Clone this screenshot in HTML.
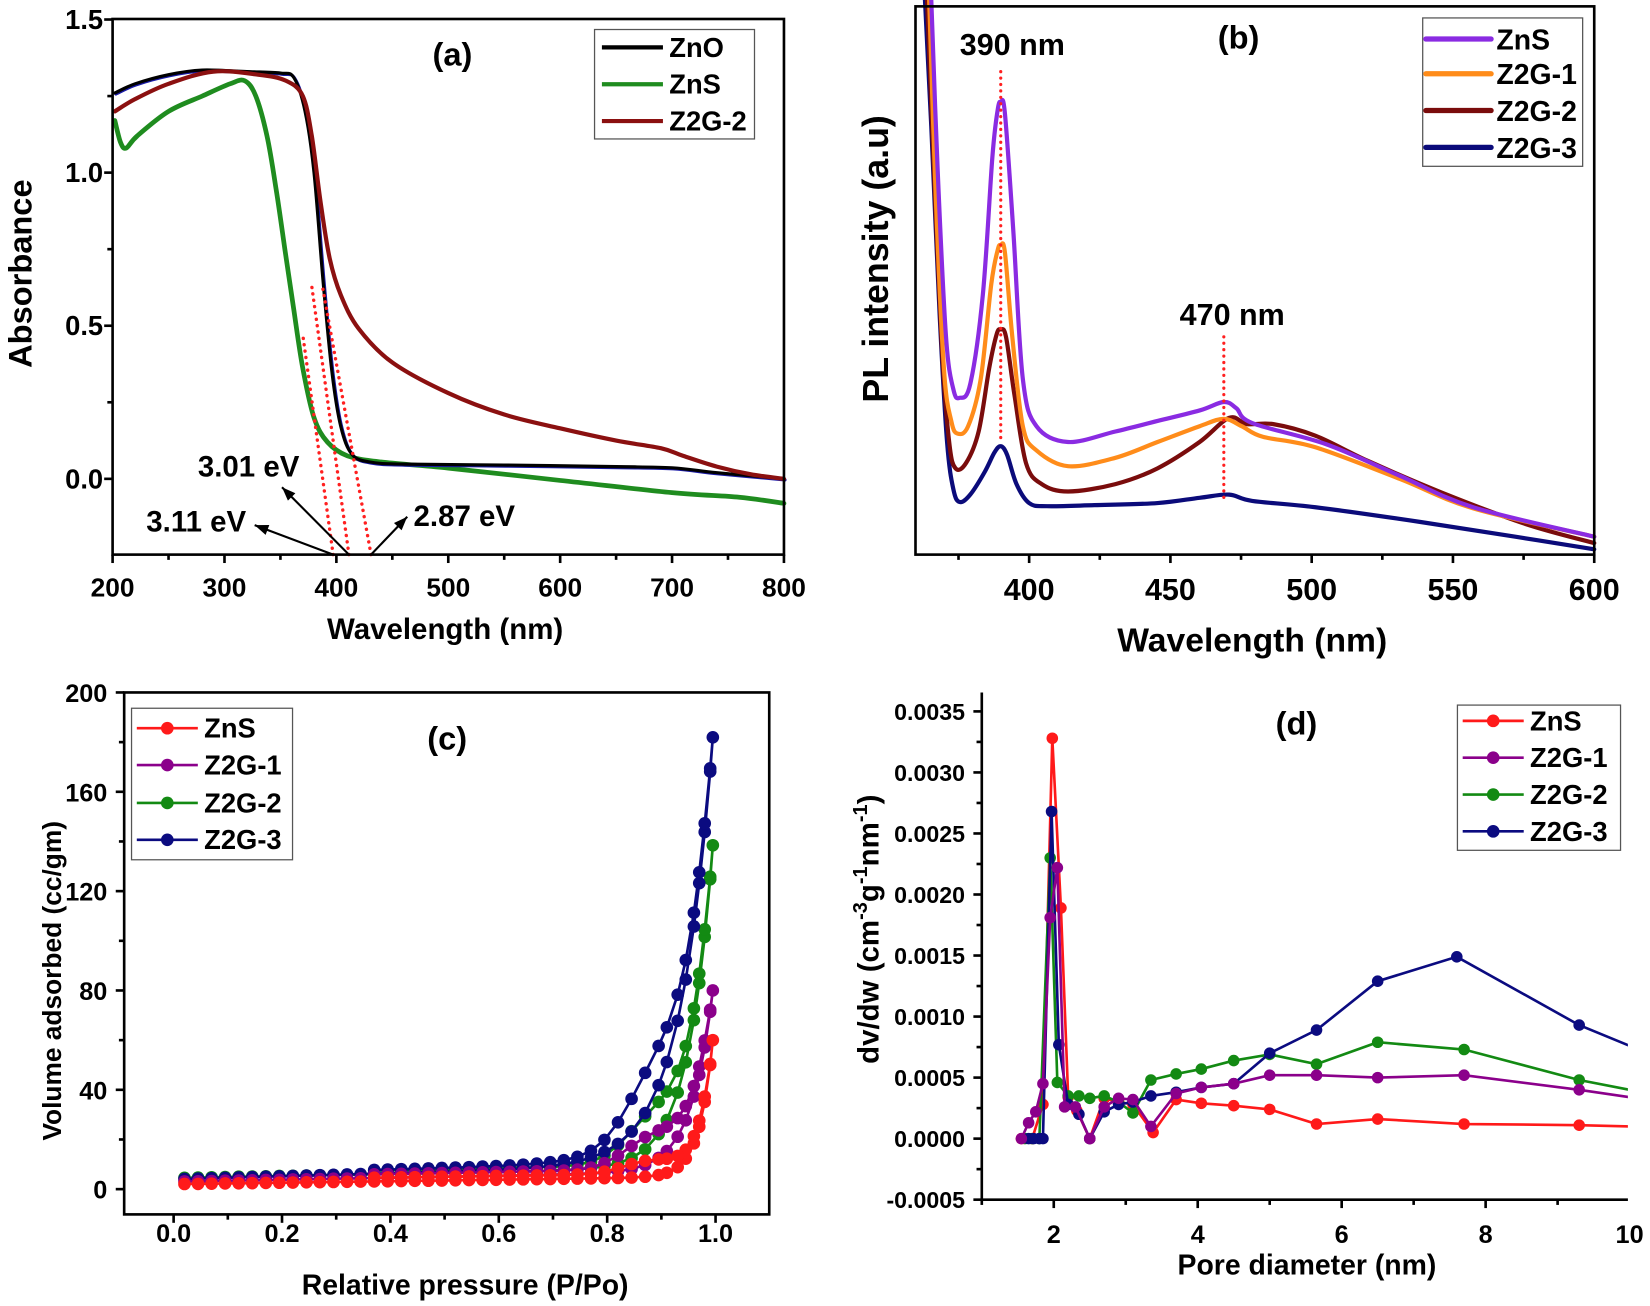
<!DOCTYPE html>
<html><head><meta charset="utf-8"><style>
html,body{margin:0;padding:0;background:#fff;}
svg{display:block;}
text{font-family:"Liberation Sans",Arial,sans-serif;font-weight:bold;fill:#000;}
</style></head><body>
<svg id="s" width="1650" height="1306" viewBox="0 0 1568 1241" xmlns="http://www.w3.org/2000/svg">
<rect width="1568" height="1241" fill="#fff"/>
<g id="g"></g>
</svg>
<script>
var out=[];
function add(s){out.push(s);}
function cr(pts){
 var d='M'+pts[0][0].toFixed(1)+' '+pts[0][1].toFixed(1);
 for(var i=0;i<pts.length-1;i++){
  var p0=pts[Math.max(0,i-1)],p1=pts[i],p2=pts[i+1],p3=pts[Math.min(pts.length-1,i+2)];
  var c1=[p1[0]+(p2[0]-p0[0])/6,p1[1]+(p2[1]-p0[1])/6],c2=[p2[0]-(p3[0]-p1[0])/6,p2[1]-(p3[1]-p1[1])/6];
  d+=' C'+c1[0].toFixed(1)+' '+c1[1].toFixed(1)+' '+c2[0].toFixed(1)+' '+c2[1].toFixed(1)+' '+p2[0].toFixed(1)+' '+p2[1].toFixed(1);
 }
 return d;
}
function path(pts,col,w,extra){add('<path d="'+cr(pts)+'" fill="none" stroke="'+col+'" stroke-width="'+w+'" stroke-linejoin="round" stroke-linecap="round" '+(extra||'')+'/>');}
function line(x1,y1,x2,y2,col,w,extra){add('<line x1="'+x1+'" y1="'+y1+'" x2="'+x2+'" y2="'+y2+'" stroke="'+col+'" stroke-width="'+w+'" '+(extra||'')+'/>');}
function txt(x,y,s,fs,anchor,extra){add('<text x="'+x+'" y="'+y+'" font-size="'+fs+'" text-anchor="'+(anchor||'start')+'" '+(extra||'')+'>'+s+'</text>');}
function box(x0,y0,x1,y1,w){add('<rect x="'+x0+'" y="'+y0+'" width="'+(x1-x0)+'" height="'+(y1-y0)+'" fill="none" stroke="#000" stroke-width="'+w+'"/>');}

/* ---------- Panel (a) ---------- */
function A(l,a){return [107+(l-200)*1.0633,455-a*291];}
for(var l=200;l<=800;l+=50){var x=A(l,0)[0];line(x,527,x,527+(l%100==0?8:5),'#000',2.5);if(l%100==0)txt(x,567,l,25,'middle');}
for(var a=-0.25;a<=1.5;a+=0.25){var y=A(200,a)[1];if(a>-0.2){line(107,y,107-(Math.abs(a*2-Math.round(a*2))<0.01?8:5),y,'#000',2.5);} }
[[1.5,'1.5'],[1.0,'1.0'],[0.5,'0.5'],[0,'0.0']].forEach(function(t){txt(98,A(200,t[0])[1]+9,t[1],26,'end');});
var zno=[[202,1.26],[220,1.29],[250,1.32],[280,1.335],[320,1.33],[350,1.325],[362,1.31],[372,1.2],[380,1.0],[388,0.65],[396,0.35],[404,0.17],[414,0.08],[430,0.055],[460,0.048],[550,0.045],[650,0.04],[700,0.036],[740,0.02],[800,0.0]];
var zns=[[202,1.17],[207,1.1],[212,1.08],[222,1.12],[250,1.2],[280,1.25],[305,1.29],[318,1.3],[328,1.25],[338,1.12],[346,0.95],[354,0.75],[362,0.55],[370,0.36],[380,0.2],[392,0.12],[410,0.075],[440,0.055],[500,0.035],[600,-0.005],[700,-0.045],[760,-0.06],[800,-0.08]];
var z2=[[202,1.2],[220,1.24],[250,1.29],[290,1.33],[330,1.32],[355,1.3],[370,1.25],[378,1.12],[386,0.9],[394,0.72],[404,0.6],[420,0.49],[450,0.38],[500,0.28],[550,0.21],[600,0.165],[650,0.125],[690,0.1],[710,0.075],[740,0.04],[770,0.015],[800,0.0]];
function mapA(arr){return arr.map(function(p){return A(p[0],p[1]);});}
path(mapA(zns),'#1f8c1f',4.5);
path(mapA(zno).map(function(p){return [p[0]+1,p[1]+1];}),'#1a1aa8',3);
path(mapA(zno),'#000',3);
path(mapA(z2),'#8b1010',4);
var dot='stroke-dasharray="0.1 6" stroke-linecap="round"';
line(316.6,527,288,320,'#ff2020',3.2,dot);
line(331.6,527,296,270,'#ff2020',3.2,dot);
line(352.6,527,306,270,'#ff2020',3.2,dot);
function arrow(x1,y1,x2,y2){line(x1,y1,x2,y2,'#000',2);var ang=Math.atan2(y2-y1,x2-x1),L=13,w=5;
 var bx=x2-L*Math.cos(ang),by=y2-L*Math.sin(ang);
 add('<polygon points="'+x2+','+y2+' '+(bx+w*Math.sin(ang))+','+(by-w*Math.cos(ang))+' '+(bx-w*Math.sin(ang))+','+(by+w*Math.cos(ang))+'" fill="#000"/>');}
arrow(316.6,527,242,499);arrow(331.6,527,268,463);arrow(352.6,527,387,491);
txt(188,453,'3.01 eV',28);txt(139,505,'3.11 eV',28);txt(393,500,'2.87 eV',28);
box(107,18,745,527,2.5);
add('<rect x="565" y="28" width="152" height="104" fill="#fff" stroke="#555" stroke-width="1.2"/>');
[['ZnO','#000',45],['ZnS','#1f8c1f',80],['Z2G-2','#8b1010',115]].forEach(function(e){line(572,e[2],630,e[2],e[1],4);txt(636,e[2]+9,e[0],26);});
txt(430,62,'(a)',31,'middle');
txt(423,607,'Wavelength (nm)',28,'middle');
txt(0,0,'Absorbance',31,'middle','transform="translate(30,260) rotate(-90)"');

/* ---------- Panel (b) ---------- */
function B(l){return 978+(l-400)*2.685;}
for(var l=375;l<=600;l+=25){var x=B(l);line(x,527,x,527+(l%50==0?8:5),'#000',2.5);if(l%50==0)txt(x,570,l,29,'middle');}
var bz3=[[879,0],[885,120],[893,300],[900,420],[906,465],[912,477],[922,470],[936,448],[945,430],[951,424],[957,432],[966,460],[978,478],[995,481],[1040,480],[1100,478],[1140,473],[1168,470],[1190,476],[1250,482],[1350,496],[1440,510],[1515,522]];
var bz2=[[881,0],[887,150],[895,330],[902,420],[908,445],[918,440],[930,410],[940,350],[947,318],[951,313],[956,320],[964,375],[975,440],[990,460],[1015,467],[1060,460],[1100,445],[1140,420],[1168,397],[1185,403],[1210,403],[1250,414],[1300,438],[1370,468],[1450,498],[1515,516]];
var bz1=[[883,0],[889,180],[897,350],[904,400],[910,412],[920,405],[932,360],[942,270],[948,238],[951,233],[955,240],[962,320],[972,405],[985,428],[1015,443],[1060,435],[1100,420],[1140,405],[1163,398],[1180,405],[1200,415],[1250,425],[1330,455],[1400,483],[1515,510]];
var bz0=[[885,0],[891,160],[899,320],[906,370],[912,378],[922,365],[934,280],[943,150],[948,105],[951,97],[955,108],[963,220],[972,360],[985,405],[1015,420],[1060,410],[1100,400],[1140,390],[1163,382],[1175,388],[1190,402],[1260,422],[1330,452],[1400,482],[1515,510]];
path(bz3,'#0b0b7a',4);path(bz2,'#7a0c0c',4);path(bz1,'#ff8c1a',4);path(bz0,'#8a2be2',4);
line(951,68,951,418,'#ff2020',3,dot);
line(1163,320,1163,475,'#ff2020',3,dot);
txt(962,52,'390 nm',29,'middle');txt(1171,309,'470 nm',29,'middle');
txt(1177,46,'(b)',31,'middle');
box(870,6,1515,527,2.5);
add('<rect x="1352" y="17" width="152" height="141" fill="#fff" stroke="#555" stroke-width="1.2"/>');
[['ZnS','#8a2be2',37],['Z2G-1','#ff8c1a',70],['Z2G-2','#7a0c0c',105],['Z2G-3','#0b0b7a',140]].forEach(function(e){line(1355,e[2],1417,e[2],e[1],5,'stroke-linecap="round"');txt(1422,e[2]+10,e[0],27);});
txt(1190,619,'Wavelength (nm)',32,'middle');
txt(0,0,'PL intensity (a.u)',34,'middle','transform="translate(844,246) rotate(-90)"');

/* ---------- Panel (c) ---------- */
function C(p,v){return [165+p*515,1130-v*2.36];}
for(var i=-1;i<=11;i++){var x=165+i*51.5;if(x<118||x>731)continue;line(x,1154,x,1154+(i%2==0?8:5),'#000',2.5);if(i%2==0&&i>=0)txt(x,1180,(i/10).toFixed(1),24,'middle');}
for(var v=0;v<=200;v+=20){var y=C(0,v)[1];line(118,y,118-(v%40==0?8:5),y,'#000',2.5);if(v%40==0)txt(102,y+9,v,24,'end');}
var cs=[['#ff1a1a',2,3,55,0.025,5,'ZnS'],['#8b008b',3,4,73,0.04,10,'Z2G-1'],['#138a13',4.5,4,130,0.045,12,'Z2G-2'],['#0b0b80',4,6,172,0.06,15,'Z2G-3']];
var ps=[];for(var p=0.02;p<0.9;p+=0.025)ps.push(p);ps=ps.concat([0.91,0.93,0.945,0.96,0.97,0.98,0.99]);
var order=[2,3,1,0];
order.forEach(function(k){var c=cs[k];
 function f(p){return c[1]+c[2]*p+c[3]*Math.exp((p-0.995)/c[4]);}
 var ad=ps.map(function(p){return C(p,f(p));});
 var de=ps.slice().reverse().filter(function(p){return p>0.35;}).map(function(p){return C(p,f(p)+c[5]*Math.exp(-Math.pow((p-0.88)/0.07,2))+ (p<0.99?1.5:0));});
 var all=ad.concat([C(0.995,f(0.995))]).concat(de);
 add('<polyline points="'+all.map(function(q){return q[0].toFixed(1)+','+q[1].toFixed(1);}).join(' ')+'" fill="none" stroke="'+c[0]+'" stroke-width="2.5"/>');
 all.forEach(function(q){add('<circle cx="'+q[0].toFixed(1)+'" cy="'+q[1].toFixed(1)+'" r="6" fill="'+c[0]+'"/>');});
});
box(118,658,731,1154,2.5);
add('<rect x="125" y="673" width="153" height="144" fill="#fff" stroke="#555" stroke-width="1.2"/>');
[[0,692],[1,727],[2,763],[3,798]].forEach(function(e){var c=cs[e[0]];line(130,e[1],188,e[1],c[0],2.5);add('<circle cx="159" cy="'+e[1]+'" r="6" fill="'+c[0]+'"/>');txt(194,e[1]+9,c[6],26);});
txt(425,712,'(c)',31,'middle');
txt(442,1230,'Relative pressure (P/Po)',27,'middle');
txt(0,0,'Volume adsorbed (cc/gm)',25,'middle','transform="translate(58,932) rotate(-90)"');

/* ---------- Panel (d) ---------- */
function D(d,v){return [933+(d-1)*68.4,1082-v*116000];}
for(var d=1;d<=10;d++){var x=D(d,0)[0];line(x,1140,x,1140+(d%2==0?8:5),'#000',2.5);if(d%2==0)txt(x,1181,d,24,'middle');}
for(var i=-2;i<=15;i++){var v=i*0.00025;var y=D(1,v)[1];if(y>1140||y<658)continue;line(933,y,933-(i%2==0?8:5),y,'#000',2.5);if(i%2==0)txt(917,y+8,v.toFixed(4),22,'end');}
var dser=[
['#ff1a1a','ZnS',[[1.55,0],[1.7,0],[1.85,0.00028],[1.98,0.00328],[2.1,0.00189],[2.2,0.00034],[2.32,0.00023],[2.5,0],[2.7,0.00033],[2.9,0.0003],[3.1,0.00028],[3.38,0.00005],[3.7,0.00032],[4.05,0.00029],[4.5,0.00027],[5.0,0.00024],[5.65,0.00012],[6.5,0.00016],[7.7,0.00012],[9.3,0.00011],[10,0.0001]]],
['#138a13','Z2G-2',[[1.6,0],[1.7,0],[1.8,0],[1.95,0.0023],[2.05,0.00046],[2.2,0.00035],[2.35,0.00035],[2.5,0.00033],[2.7,0.00035],[2.9,0.0003],[3.1,0.00021],[3.35,0.00048],[3.7,0.00053],[4.05,0.00057],[4.5,0.00064],[5.0,0.00069],[5.65,0.00061],[6.5,0.00079],[7.7,0.00073],[9.3,0.00048],[10,0.0004]]],
['#0b0b80','Z2G-3',[[1.65,0],[1.72,0],[1.8,0],[1.85,0],[1.97,0.00268],[2.07,0.00077],[2.2,0.00028],[2.35,0.0002],[2.5,0],[2.7,0.00022],[2.9,0.00028],[3.1,0.0003],[3.35,0.00035],[3.7,0.00038],[4.05,0.00042],[4.5,0.00045],[5.0,0.0007],[5.65,0.00089],[6.5,0.00129],[7.6,0.00149],[9.3,0.00093],[10,0.00076]]],
['#8b008b','Z2G-1',[[1.55,0],[1.65,0.00013],[1.75,0.00022],[1.85,0.00045],[1.95,0.00181],[2.05,0.00222],[2.15,0.00026],[2.3,0.00026],[2.5,0],[2.7,0.00026],[2.9,0.00033],[3.1,0.00032],[3.35,0.0001],[3.7,0.00037],[4.05,0.00042],[4.5,0.00045],[5.0,0.00052],[5.65,0.00052],[6.5,0.0005],[7.7,0.00052],[9.3,0.0004],[10,0.00034]]]];
dser.forEach(function(s){var pts=s[2].map(function(p){return D(p[0],p[1]);});
 add('<polyline points="'+pts.map(function(q){return q[0].toFixed(1)+','+q[1].toFixed(1);}).join(' ')+'" fill="none" stroke="'+s[0]+'" stroke-width="2.5"/>');
 pts.forEach(function(q){if(q[0]<1548)add('<circle cx="'+q[0].toFixed(1)+'" cy="'+q[1].toFixed(1)+'" r="5.5" fill="'+s[0]+'"/>');});});
add('<rect x="1547" y="650" width="21" height="500" fill="#fff"/>');
add('<path d="M933 658 V1140 H1547" fill="none" stroke="#000" stroke-width="2.5"/>');
add('<rect x="1385" y="670" width="155" height="138" fill="#fff" stroke="#555" stroke-width="1.2"/>');
[['#ff1a1a','ZnS',685],['#8b008b','Z2G-1',720],['#138a13','Z2G-2',755],['#0b0b80','Z2G-3',790]].forEach(function(e){line(1390,e[2],1448,e[2],e[0],2.5);add('<circle cx="1419" cy="'+e[2]+'" r="6" fill="'+e[0]+'"/>');txt(1454,e[2]+9,e[1],26);});
txt(1232,698,'(d)',31,'middle');
txt(1242,1211,'Pore diameter (nm)',27,'middle');
add('<text x="0" y="0" font-size="28" text-anchor="middle" transform="translate(835,883) rotate(-90)">dv/dw (cm<tspan dy="-11" font-size="19">-3</tspan><tspan dy="11">g</tspan><tspan dy="-11" font-size="19">-1</tspan><tspan dy="11">nm</tspan><tspan dy="-11" font-size="19">-1</tspan><tspan dy="11">)</tspan></text>');

document.getElementById('g').innerHTML=out.join('');
</script>
</body></html>
